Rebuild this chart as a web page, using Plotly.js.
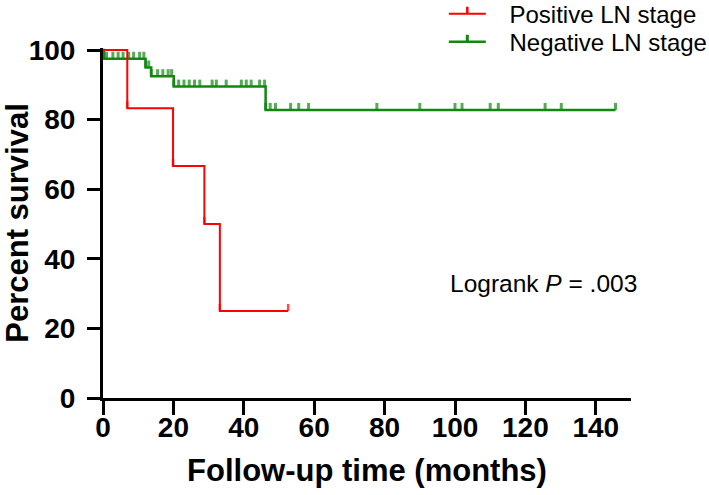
<!DOCTYPE html>
<html><head><meta charset="utf-8">
<script src="https://cdn.plot.ly/plotly-3.0.1.min.js"></script>
<style>html,body{margin:0;padding:0;background:#fff}</style>
</head><body><div id="chart" style="width:709px;height:495px"></div>
<script>
// Positive LN stage (red)
const posTime = [0, 6.9, 19.9, 28.8, 33.2, 52.6];
const posSurv = [100, 83.3, 66.7, 50, 25, 25];
const posCensored = [0, 1, 1, 1, 1, 1];

// Negative LN stage (green)
const negTime = [0, 0.3, 1.0, 2.8, 4.3, 5.7, 7.3, 8.7, 10.4, 11.6,
  12.1, 13.0, 13.7, 15.5, 17.0, 18.5, 19.5,
  20.1, 21.5, 23.0, 24.5, 26.0, 27.5, 31.0, 32.2, 35.0, 39.3, 40.7, 42.1, 44.5, 45.9,
  46.2, 47.5, 49.0, 53.3, 55.6, 58.4, 77.8, 90.0, 100.0, 102.0, 110.0, 112.3, 125.6, 130.2, 145.6];
const negSurv = [100, 97.5, 97.5, 97.5, 97.5, 97.5, 97.5, 97.5, 97.5, 97.5,
  95.0, 95.0, 92.5, 92.5, 92.5, 92.5, 92.5,
  89.5, 89.5, 89.5, 89.5, 89.5, 89.5, 89.5, 89.5, 89.5, 89.5, 89.5, 89.5, 89.5, 89.5,
  82.8, 82.8, 82.8, 82.8, 82.8, 82.8, 82.8, 82.8, 82.8, 82.8, 82.8, 82.8, 82.8, 82.8, 82.8];
const negCensored = [0, 0, 1, 1, 1, 1, 1, 1, 1, 1,
  1, 1, 1, 1, 1, 1, 1,
  1, 1, 1, 1, 1, 1, 1, 1, 1, 1, 1, 1, 1, 1,
  1, 1, 1, 1, 1, 1, 1, 1, 1, 1, 1, 1, 1, 1, 1];

const seriesNames = ['Positive LN stage', 'Negative LN stage'];
const seriesColors = ['#ff0000', '#118811'];
const xTicks = [0, 20, 40, 60, 80, 100, 120, 140];
const yTicks = [0, 20, 40, 60, 80, 100];

const FONT = 'Liberation Sans, Arial, sans-serif';
const GAP = '\u2002\u00a0';

function kmTrace(t, s, c, color, w) {
  return {
    type: 'scatter', mode: 'lines+markers', showlegend: false,
    x: t, y: s,
    line: {shape: 'hv', color: color, width: w},
    marker: {
      symbol: 'line-ns', size: c.map(v => v ? 5 : 0),
      color: color, line: {color: color, width: w + 0.5},
      angle: 180, standoff: 3.5
    },
    cliponaxis: false,
    hoverinfo: 'skip'
  };
}
function legendTrace(name, color, w, legendId) {
  return {
    type: 'scatter', mode: 'lines+markers', name: GAP + name,
    legend: legendId,
    x: [null], y: [null],
    line: {color: color, width: w},
    marker: {symbol: 'line-ns', size: 5, color: color,
      line: {color: color, width: w + 0.5}, angle: 0, standoff: 3.5},
    hoverinfo: 'skip'
  };
}

const data = [
  kmTrace(negTime, negSurv, negCensored, seriesColors[1], 2.5),
  kmTrace(posTime, posSurv, posCensored, seriesColors[0], 2),
  legendTrace(seriesNames[0], seriesColors[0], 2, 'legend'),
  legendTrace(seriesNames[1], seriesColors[1], 2.5, 'legend2')
];

const legendBase = {
  x: 0.6455, xanchor: 'left', yanchor: 'middle',
  font: {family: FONT, size: 24, color: '#000'},
  itemwidth: 37, bgcolor: 'rgba(0,0,0,0)'
};

const layout = {
  width: 709, height: 495,
  margin: {l: 103, r: 78, t: 48, b: 97, autoexpand: false},
  paper_bgcolor: '#fff', plot_bgcolor: '#fff',
  showlegend: true,
  legend: Object.assign({}, legendBase, {y: 1.097}),
  legend2: Object.assign({}, legendBase, {y: 1.017}),
  xaxis: {
    range: [0, 150], tickvals: xTicks, ticktext: xTicks.map(String),
    showgrid: false, zeroline: false,
    showline: true, linecolor: '#000', linewidth: 3,
    ticks: 'outside', ticklen: 14, tickwidth: 3, tickcolor: '#000',
    ticklabelstandoff: -12,
    tickfont: {family: FONT, size: 28, color: '#000', weight: 'bold'},
    title: {text: 'Follow-up time (months)', font: {family: FONT, size: 31, color: '#000', weight: 'bold'}, standoff: 18}
  },
  yaxis: {
    range: [0, 100.6], tickvals: yTicks, ticktext: yTicks.map(String),
    showgrid: false, zeroline: false,
    showline: true, linecolor: '#000', linewidth: 3,
    ticks: 'outside', ticklen: 13, tickwidth: 3, tickcolor: '#000',
    ticklabelstandoff: 6,
    tickfont: {family: FONT, size: 28, color: '#000', weight: 'bold'},
    title: {text: 'Percent survival', font: {family: FONT, size: 31, color: '#000', weight: 'bold'}, standoff: 12}
  },
  annotations: [{
    x: 125.2, y: 32.8, xref: 'x', yref: 'y', showarrow: false,
    xanchor: 'center', yanchor: 'middle',
    text: 'Logrank <i>P</i> = .003',
    font: {family: FONT, size: 24.5, color: '#000'}
  }]
};

Plotly.newPlot('chart', data, layout, {displayModeBar: false, staticPlot: true});
</script>
</body></html>
